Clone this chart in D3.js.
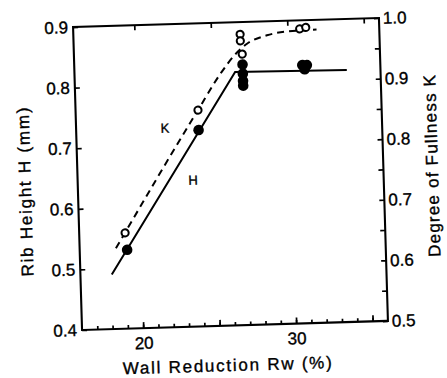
<!DOCTYPE html>
<html><head><meta charset="utf-8">
<script src="https://cdn.jsdelivr.net/npm/d3@7"></script>
<style>body{margin:0;background:#fff}svg{display:block}text{fill:#000}</style>
</head><body>
<script>
// ---- data ----
const hPointX = [19.1, 24.0, 27.0, 27.0, 27.0, 27.0, 30.9, 31.2, 31.05];
const hPointY = [0.530, 0.724, 0.830, 0.815, 0.803, 0.795, 0.826, 0.826, 0.819];
const kPointX = [19.0, 24.0, 26.9, 26.9, 27.0, 30.8, 31.2];
const kPointY = [0.658, 0.857, 0.980, 0.969, 0.947, 0.986, 0.988];
const hLineX = [18.05, 26.5, 33.8];
const hLineY = [0.490, 0.818, 0.816];
const kLineX = [18.37, 24.0, 25.6, 26.5, 27.33, 28.65, 29.84, 31.9];
const kLineY = [0.633, 0.857, 0.918, 0.946, 0.964, 0.977, 0.982, 0.984];
const xMinorTicks = d3.range(17, 36);
const xMajorTicks = [20, 25, 30, 35];
const xLabelTicks = [20, 30];
const hTicks = [0.4, 0.5, 0.6, 0.7, 0.8, 0.9];
const kTicks = [0.5, 0.6, 0.7, 0.8, 0.9, 1.0];
const kMinorTicks = [0.55, 0.65, 0.75, 0.85, 0.95];
const xTitle = "Wall Reduction Rw (%)";
const hTitle = "Rib Height H (mm)";
const kTitle = "Degree of Fullness K";
const seriesLabels = [{t: "K", x: 21.8, y: 0.729}, {t: "H", x: 23.54, y: 0.642}];

// ---- layout ----
const W = 447, H = 378;
const L = 77.5, R = 383.5, T = 22.5, B = 325.5;
const font = "'Liberation Sans', Arial, Helvetica, sans-serif";

const svg = d3.select("body").append("svg").attr("width", W).attr("height", H);
const g = svg.append("g").attr("transform", "rotate(-1.7,230,174)");

const x = d3.scaleLinear().domain([16, 36]).range([L, R]);
const yH = d3.scaleLinear().domain([0.4, 0.9]).range([B, T]);
const yK = d3.scaleLinear().domain([0.5, 1.0]).range([B, T]);

function txt(sel, size) {
  sel.attr("fill", "#000").attr("stroke", "#000").attr("stroke-width", 0.35)
    .style("font-family", font).style("font-size", size + "px");
}
function style(sel) {
  sel.select(".domain").remove();
  sel.selectAll(".tick line").attr("stroke", "#000").attr("stroke-width", 1.7);
  sel.selectAll(".tick text").call(txt, 17);
}

// bottom minor
g.append("g").attr("transform", `translate(0,${B})`)
  .call(d3.axisBottom(x).tickValues(xMinorTicks).tickSize(-3.5).tickFormat(""))
  .call(style);
// bottom major with labels
g.append("g").attr("transform", `translate(0,${B})`)
  .call(d3.axisBottom(x).tickValues(xMajorTicks).tickSize(-6).tickPadding(8)
    .tickFormat(d => xLabelTicks.includes(d) ? String(d) : ""))
  .call(style)
  .call(s => s.selectAll(".tick text").attr("dy", "0.75em"));
// top ticks
g.append("g").attr("transform", `translate(0,${T})`)
  .call(d3.axisTop(x).tickValues(xMajorTicks).tickSize(-5).tickFormat(""))
  .call(style);
// left axis
g.append("g").attr("transform", `translate(${L},0)`)
  .call(d3.axisLeft(yH).tickValues(hTicks).tickSize(-5).tickPadding(5).tickFormat(d3.format(".1f")))
  .call(style);
// right axis
g.append("g").attr("transform", `translate(${R},0)`)
  .call(d3.axisRight(yK).tickValues(kTicks.concat(kMinorTicks)).tickSize(-5).tickPadding(4)
    .tickFormat(d => kTicks.some(v => Math.abs(v - d) < 1e-9) ? d3.format(".1f")(d) : ""))
  .call(style);

// frame
g.append("rect").attr("x", L).attr("y", T).attr("width", R - L).attr("height", B - T)
  .attr("fill", "none").attr("stroke", "#000").attr("stroke-width", 2.1);

// lines
const hLine = d3.line().x((d, i) => x(hLineX[i])).y((d, i) => yH(hLineY[i]));
g.append("path").attr("d", hLine(hLineX)).attr("fill", "none").attr("stroke", "#000").attr("stroke-width", 2);
const kLine = d3.line().x((d, i) => x(kLineX[i])).y((d, i) => yK(kLineY[i])).curve(d3.curveMonotoneX);
g.append("path").attr("d", kLine(kLineX)).attr("fill", "none").attr("stroke", "#000")
  .attr("stroke-width", 2).attr("stroke-dasharray", "7,5");

// points
g.selectAll("circle.h").data(hPointX).join("circle").attr("class", "h")
  .attr("cx", (d) => x(d)).attr("cy", (d, i) => yH(hPointY[i])).attr("r", 5.3).attr("fill", "#000");
g.selectAll("circle.k").data(kPointX).join("circle").attr("class", "k")
  .attr("cx", (d) => x(d)).attr("cy", (d, i) => yK(kPointY[i])).attr("r", 3.6)
  .attr("fill", "#fff").attr("stroke", "#000").attr("stroke-width", 2);

// series labels
g.selectAll("text.lab").data(seriesLabels).join("text").attr("class", "lab")
  .attr("x", d => x(d.x)).attr("y", d => yH(d.y)).attr("dy", "0.35em")
  .attr("text-anchor", "middle").call(txt, 13).text(d => d.t);

// titles
g.append("text").attr("x", 221.5).attr("y", 371).attr("text-anchor", "middle")
  .attr("textLength", 209).attr("lengthAdjust", "spacing")
  .call(txt, 17).text(xTitle);
g.append("text").attr("transform", "translate(30.6,186) rotate(-90)").attr("text-anchor", "middle")
  .attr("textLength", 169).attr("lengthAdjust", "spacing")
  .call(txt, 17).text(hTitle);
g.append("text").attr("transform", "translate(438,172) rotate(-90)").attr("text-anchor", "middle")
  .attr("textLength", 182).attr("lengthAdjust", "spacing")
  .call(txt, 17).text(kTitle);
</script>
</body></html>
